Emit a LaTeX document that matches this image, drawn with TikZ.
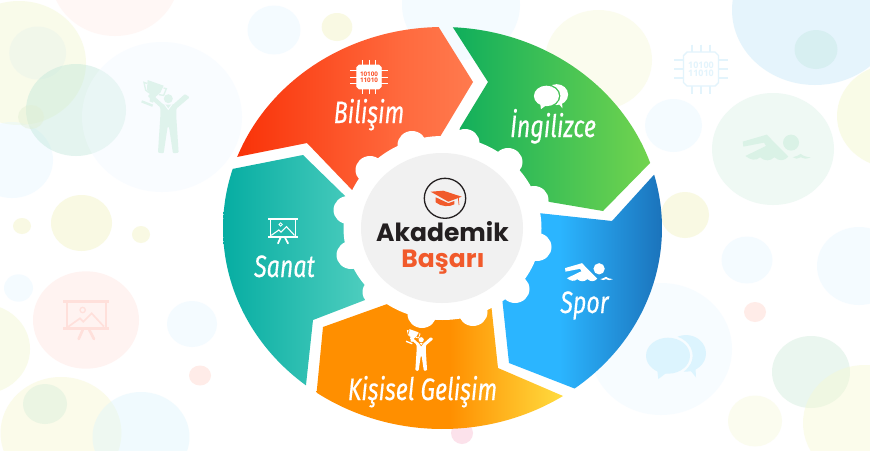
\documentclass[tikz,border=0pt]{standalone}
\usepackage{fontspec}
\setmainfont{Open Sans}
\newfontfamily\labfont[FakeStretch=0.75,FakeBold=0.3]{Fira Sans}
\newfontfamily\hdfont{Poppins}
\definecolor{rA}{HTML}{F93208}\definecolor{rB}{HTML}{FF6A3E}\definecolor{rC}{HTML}{FF7A4E}
\definecolor{gA}{HTML}{0FAE5C}\definecolor{gB}{HTML}{72D44E}
\definecolor{bA}{HTML}{2BB5FF}\definecolor{bB}{HTML}{1B73BB}
\definecolor{oA}{HTML}{FF8F00}\definecolor{oB}{HTML}{FFDC3F}
\definecolor{tA}{HTML}{06ADA2}\definecolor{tB}{HTML}{5AD3C3}
\definecolor{darkT}{HTML}{231F20}\definecolor{accentT}{HTML}{F15A2B}
\pgfdeclarehorizontalshading{redS}{100bp}{color(0bp)=(rA);color(25bp)=(rA);color(60bp)=(rB);color(75bp)=(rC);color(100bp)=(rC)}
\pgfdeclarehorizontalshading{greenS}{100bp}{color(0bp)=(gA);color(25bp)=(gA);color(75bp)=(gB);color(100bp)=(gB)}
\pgfdeclarehorizontalshading{blueS}{100bp}{color(0bp)=(bA);color(25bp)=(bA);color(43bp)=(bA);color(75bp)=(bB);color(100bp)=(bB)}
\pgfdeclarehorizontalshading{orangeS}{100bp}{color(0bp)=(oA);color(25bp)=(oA);color(52bp)=(oA);color(75bp)=(oB);color(100bp)=(oB)}
\pgfdeclarehorizontalshading{tealS}{100bp}{color(0bp)=(tA);color(25bp)=(tA);color(75bp)=(tB);color(100bp)=(tB)}
\tikzset{
  labeltext/.style={text=white,inner sep=0pt,anchor=base,font=\labfont\itshape\fontsize{31}{31}\selectfont},
  headtext/.style={inner sep=0pt,anchor=base,font=\hdfont\bfseries\fontsize{25}{25}\selectfont},
  chiptext/.style={inner sep=0pt,align=center,font=\bfseries\fontsize{#1}{#1}\selectfont}
}
% x y rx ry colour
\newcommand{\bub}[5]{\fill[fill=#5,fill opacity=.42] (#1,#2) ellipse [x radius=#3,y radius=#4];}
\definecolor{c1}{HTML}{F3F7CD}\definecolor{c2}{HTML}{E7F3EA}\definecolor{c3}{HTML}{BFE7D9}
\definecolor{c4}{HTML}{F1F9FF}\definecolor{c5}{HTML}{FFEDE9}\definecolor{c6}{HTML}{E1EFD2}
\definecolor{c7}{HTML}{E5F7FF}\definecolor{c8}{HTML}{F1F3BD}\definecolor{c9}{HTML}{E7F7FF}
\definecolor{c10}{HTML}{FFE3DF}\definecolor{c11}{HTML}{FFD3C9}\definecolor{c12}{HTML}{F7F7CD}
\definecolor{c13}{HTML}{D7EFDA}\definecolor{c14}{HTML}{DDF5FD}\definecolor{c15}{HTML}{F7F9D7}
\definecolor{c16}{HTML}{C3E7F9}\definecolor{c17}{HTML}{C5E9E4}\definecolor{c18}{HTML}{D9F1E7}
\definecolor{c19}{HTML}{F3F7C7}\definecolor{c20}{HTML}{EDF9FF}\definecolor{c21}{HTML}{CFEBD9}
\definecolor{c22}{HTML}{F7F9D9}\definecolor{c23}{HTML}{F7F9D1}\definecolor{c24}{HTML}{F9BBD1}
% person with trophy: x y scale colour backcolour
\newcommand{\icontrophy}[5]{\begin{scope}[shift={(#1,#2)},scale=#3]
 \fill[#4] (0,-54) circle [radius=13.5];
 \fill[#4,rounded corners=1pt] (-24,-28)--(-62,-62)--(-52,-70)--(-14,-36)--(14,-36)--(50,-68)--(64,-58)--(24,-24)--(24,0)--(31,108)--(14,110)--(2,30)--(-2,30)--(-14,110)--(-31,108)--(-24,0)--cycle;
 \draw[#5,line width={#3*3pt}] (-11,-37)--(0,-22)--(11,-37);
 \fill[#4] (-62,-110)--(-14,-93)--(-24,-72)--(-38,-60)--(-46,-42)--(-56,-46)--(-54,-64)--(-64,-82)--cycle;
 \draw[#4,line width={#3*7pt}] (-80,-46)--(-47,-33);
 \draw[#4,line width={#3*4pt}] (-64,-100)--(-73,-103)--(-68,-80)--(-58,-72);
 \draw[#4,line width={#3*4pt}] (-14,-86)--(-6,-84)--(-14,-64)--(-28,-66);
\end{scope}}
% presentation board: x y scale colour
\newcommand{\iconboard}[4]{\begin{scope}[shift={(#1,#2)},scale=#3]
 \draw[#4,line width={#3*8pt}] (-68,-56)--(70,-56);
 \draw[#4,line width={#3*8pt}] (-68,26)--(70,26);
 \draw[#4,line width={#3*5pt}] (-58,-56)--(-58,26) (60,-56)--(60,26);
 \draw[#4,line width={#3*5pt}] (-53,20)--(-18,-5)--(-8,5)--(17,-20)--(54,20);
 \draw[#4,line width={#3*4pt}] (-10,-30) circle [radius=8];
 \draw[#4,line width={#3*8pt},line cap=round] (-10,30)--(-22,57) (10,30)--(24,57);
\end{scope}}
% swimmer: x y scale colour
\newcommand{\iconswim}[4]{\begin{scope}[shift={(#1,#2)},scale=#3]
 \fill[#4] (43,-17) circle [radius=24];
 \fill[#4] (-102,-20)--(-30,-41)--(35,25) .. controls (22,39) and (8,39) .. (-7,27)
   .. controls (-20,39) and (-36,39) .. (-50,27) .. controls (-62,38) and (-78,36) .. (-94,23)
   --(-32,-7)--(-38,-17)--(-100,-5)--cycle;
 \fill[#4] (48,27) .. controls (58,24) and (65,22) .. (72,17) .. controls (78,22) and (90,27) .. (102,27)
   .. controls (90,32) and (80,33) .. (72,27) .. controls (64,33) and (56,32) .. (48,27) --cycle;
\end{scope}}
% speech bubbles: x y scale colour
\newcommand{\iconspeech}[4]{\begin{scope}[shift={(#1,#2)},scale=#3]
 \begin{scope}[even odd rule]
  \clip (-200,-200) rectangle (200,200) (-24,-3) ellipse [x radius=74,y radius=62];
  \fill[#4] (30,-10) ellipse [x radius=60,y radius=55];
  \fill[#4] (30,25)--(60,62)--(58,25)--cycle;
 \end{scope}
 \fill[#4] (-24,-3) ellipse [x radius=66,y radius=54];
 \fill[#4] (-56,42)--(-53,67)--(-28,48)--cycle;
\end{scope}}
% chip: name x y scale pincolour fillcolour textcolour fontsize
\newcommand{\iconchip}[8]{\begin{scope}[shift={(#2,#3)},scale=#4]
 \foreach \k in {-9,0,9}{
  \draw[#5,line width={#4*1.4pt}] (\k,-24.5)--(\k,24.5);
  \draw[#5,line width={#4*1.4pt}] (-27,\k)--(27,\k);}
 \draw[#5,fill=#6,line width={#4*1.4pt}] (-14,-17)--(14,-17)--(17.5,-13.5)--(17.5,13.5)--(14,17)--(-14,17)--(-17.5,13.5)--(-17.5,-13.5)--cycle;
\end{scope}
\node[chiptext=#8,text=#7] (#1) at (#2,#3) {10100\\[-0.12em]11010};}
\begin{document}
\begin{tikzpicture}[x=1pt,y=-1pt]
\clip (0,0) rectangle (870,450);
\fill[white] (0,0) rectangle (870,450);
% background bubbles
\bub{19}{63}{67}{62}{c1}\bub{37.7}{53}{28.5}{26.5}{c2}\bub{12}{160}{41}{38}{c7}
\bub{76}{110}{50}{46}{c3}\bub{162}{117}{80}{75}{c4}\bub{115}{-23}{64}{59}{c5}\bub{31}{117}{13}{12}{c6}
\bub{81.5}{223}{30.5}{28}{c8}\bub{22}{226}{9}{8}{c8}\bub{141}{234.5}{9}{8.5}{c8}
\bub{18.5}{288}{14.5}{13.7}{c9}\bub{86}{320}{53}{48.7}{c10}\bub{-18}{349}{48}{45}{c1}
\bub{192}{324}{25}{23}{c9}\bub{200}{375.5}{11}{10}{c11}
\bub{61}{433}{60.5}{56}{c12}\bub{45}{404}{22}{20}{c13}\bub{141}{437}{48.5}{45}{c14}
\bub{274}{30}{26.5}{24.5}{c9}\bub{337}{27}{15.3}{14}{c8}\bub{461}{5}{59}{55}{c9}
\bub{598.5}{60}{53.5}{50}{c15}\bub{673.5}{125.5}{28.5}{26.5}{c9}
\bub{815}{10}{83}{75}{c16}\bub{816}{49.5}{21.5}{19.5}{c17}\bub{773}{149}{61}{56}{c18}
\bub{894}{116}{57}{52}{c19}\bub{685}{215}{24}{23}{c8}\bub{747}{260}{25.5}{23.5}{c9}
\bub{859}{266}{42}{39}{c9}\bub{755}{312}{11}{10}{c11}\bub{661}{349}{71}{66}{c20}
\bub{811}{372}{39}{36}{c21}\bub{755}{421}{27}{25.5}{c22}\bub{865}{423}{62}{58}{c23}
\bub{462}{433}{11}{11}{c24}
% background icons
\definecolor{bgT}{HTML}{DFF3EC}\definecolor{bgB}{HTML}{FFE0DB}\definecolor{bgS}{HTML}{DAF2E6}
\definecolor{bgC}{HTML}{E3F4FC}\definecolor{bgP}{HTML}{DCF4FE}\definecolor{bgL}{HTML}{F8FCFF}
\icontrophy{168.3}{116.7}{0.3333}{bgT}{bgL}
\iconboard{86}{320}{0.3333}{bgB}
\iconswim{776.7}{148.3}{0.3333}{bgS}
\iconspeech{676}{356.7}{0.3333}{bgP}
\iconchip{chipback}{701}{69}{1}{bgC}{white}{bgC}{9}
% ring segments
\path[shade,shading=redS] plot[domain=200.7:269,samples=50] ({442.5+219.5*cos(\x)},{228+201*sin(\x)})
  --(473,82)--(420,170)--(380,195)--(354,192)--(307,143)--cycle;
\path[shade,shading=greenS] plot[domain=272.7:341.1,samples=50] ({442.5+219.5*cos(\x)},{228+201*sin(\x)})
  --(603,211)--(550,202)--(520,190)--(455,150)--(460,128)--(488,82)--cycle;
\path[shade,shading=blueS] plot[domain=-15.4:53,samples=50] ({442.5+219.5*cos(\x)},{228+201*sin(\x)})
  --(509,363)--(502,297)--(515,270)--(530,225)--(538,213)--(612,221)--cycle;
\path[shade,shading=orangeS] plot[domain=56.7:125,samples=50] ({442.5+219.5*cos(\x)},{228+201*sin(\x)})
  --(323,327)--(390,303)--(420,290)--(480,290)--(491,303)--(498,368)--cycle;
\path[shade,shading=tealS] plot[domain=128.5:197.1,samples=50] ({442.5+219.5*cos(\x)},{228+201*sin(\x)})
  --(303,155)--(342,193)--(370,220)--(390,290)--(365,300)--(313,320)--(306,385)--cycle;
% gear
\fill[white] (442.5,228) ellipse [x radius=99,y radius=92];
\foreach \gx/\gy in {412/145,465/143,508/162,534/200,537/247,515/289,473/312,422/314,377/292,351/255,348/210,370/170}
  \fill[white] (\gx,\gy) ellipse [x radius=14.5,y radius=14];
\fill[black!5.5] (442,228) ellipse [x radius=81,y radius=75];
% graduation cap
\draw[darkT,line width=1.3pt] (445,198.3) ellipse [x radius=20.7,y radius=20];
\fill[accentT] (430.7,191.7)--(443.3,190.7)--(461.7,196.7)--(448.3,201.7)--cycle;
\fill[accentT] (435.7,197.3)--(448.3,203.2)--(454.3,201)--(454.3,204.3) .. controls (450,207) and (441,207) .. (435.7,202.3)--cycle;
\draw[accentT,line width=.7pt] (458.3,197.5)--(459,205);
% centre text
\node[headtext,text=darkT] (akademik) at (442.5,241) {Akademik};
\node[headtext,text=accentT] (basari) at (443,267) {Başarı};
% icons and labels
\iconchip{chipfront}{369}{77}{0.7}{white}{white}{rA!60!rC}{6.3}
\node[labeltext] (bilisim) at (369,123) {Bilişim};
\iconspeech{551}{96.5}{0.19}{white}
\node[labeltext] (ingilizce) at (553,137) {İngilizce};
\iconswim{589}{272.8}{0.235}{white}
\node[labeltext] (spor) at (584.5,313) {Spor};
\icontrophy{421.2}{350}{0.19}{white}{oA}
\node[labeltext] (kisisel) at (422.5,400) {Kişisel Gelişim};
\iconboard{282.8}{231}{0.217}{white}
\node[labeltext] (sanat) at (284.5,277) {Sanat};
\end{tikzpicture}
\end{document}
